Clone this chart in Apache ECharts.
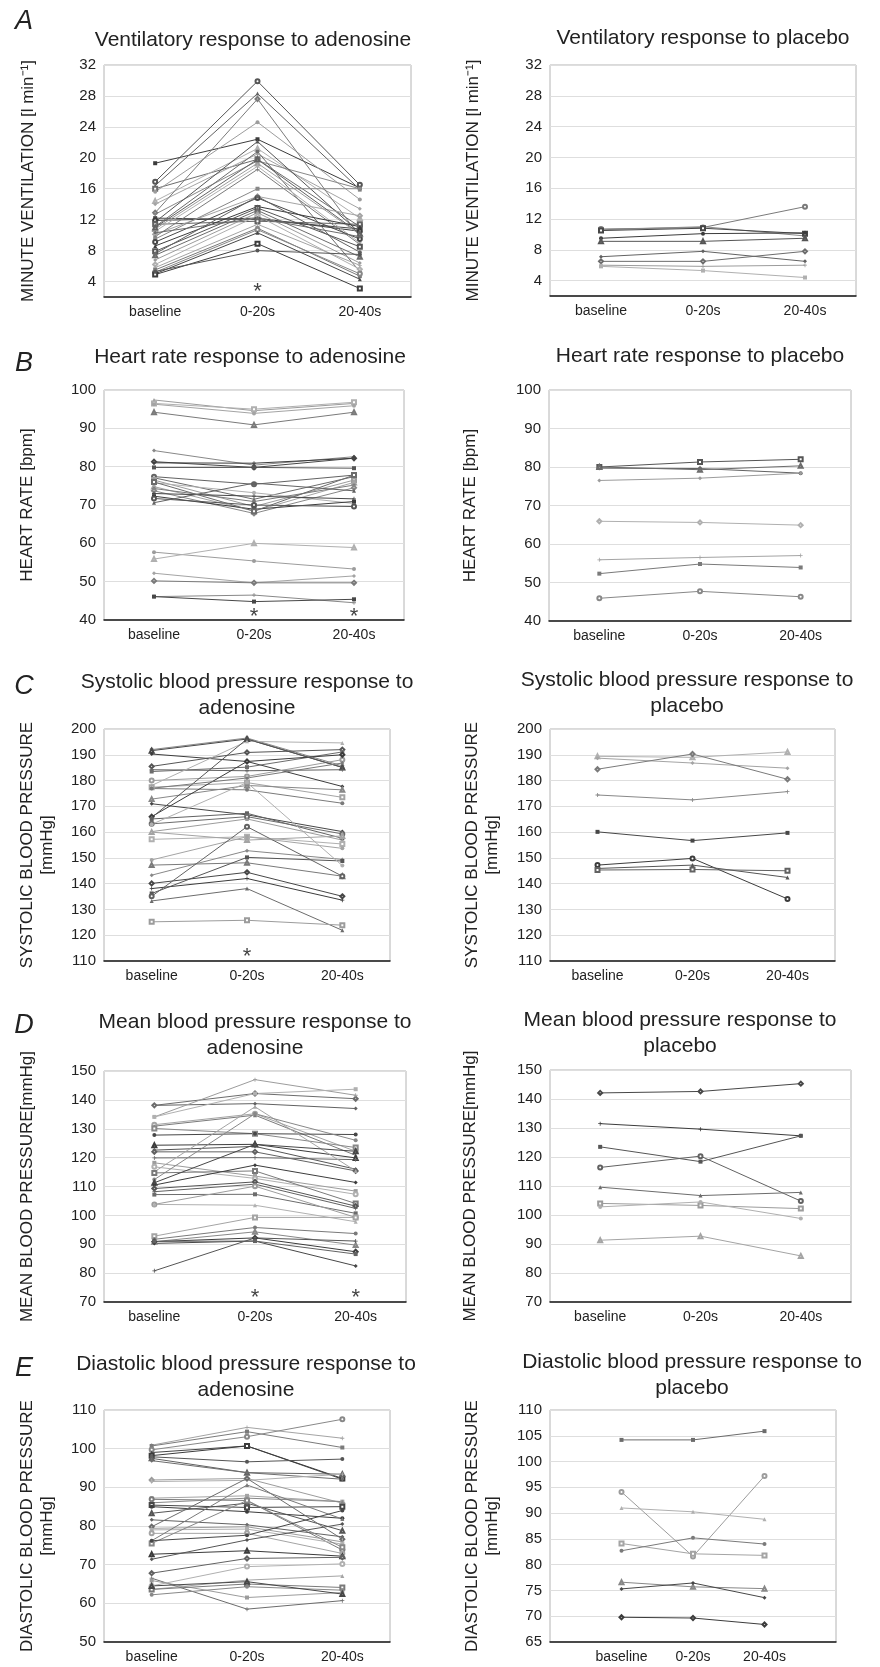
<!DOCTYPE html>
<html><head><meta charset="utf-8">
<script src="https://cdn.jsdelivr.net/npm/echarts@6/dist/echarts.min.js"></script>
<style>html,body{margin:0;padding:0;background:#fff}#c{width:880px;height:1667px}</style>
</head><body><div id="c"></div>
<script>
// ---------- categories & axis ranges ----------
const categories = ['baseline', '0-20s', '20-40s'];
const yRangeVent = [2, 32, 4];
const yRangeHr = [40, 100, 10];
const yRangeSbp = [110, 200, 10];
const yRangeMbp = [70, 150, 10];
const yRangeDbpAdenosine = [50, 110, 10];
const yRangeDbpPlacebo = [65, 110, 5];

// ---------- data: each row = one subject [baseline, 0-20s, 20-40s] ----------
const ventAdenosine = [
  [19.3,22.4,16.1],[16.9,29.9,16.5],[16.4,28.3,15.9],[16.0,19.8,11.1],[15.6,24.6,14.6],
  [14.4,21.2,12.2],[14.0,20.5,13.4],[12.9,27.6,9.8],[12.7,19.6,16.0],[12.2,12.0,10.8],
  [11.9,12.2,10.5],[11.7,22.1,10.3],[11.4,11.8,11.4],[11.1,20.8,5.3],[10.8,19.3,10.1],
  [10.5,18.9,9.0],[10.1,15.0,12.5],[9.8,18.5,8.8],[9.5,16.0,16.0],[9.1,14.8,9.5],
  [8.6,13.7,11.1],[7.9,13.5,8.5],[7.6,15.0,7.8],[7.4,13.2,7.2],[6.8,12.9,6.4],
  [6.2,12.5,5.6],[5.8,11.4,6.1],[5.5,10.9,4.7],[5.2,10.7,5.0],[5.0,10.3,4.3],
  [4.9,8.9,3.1],[5.3,8.0,7.5],[11.0,19.8,10.2],[10.3,12.2,9.8]
];
const ventPlacebo = [
  [10.7,10.9,13.6],[10.6,11.0,9.8],[10.5,10.8,10.1],[9.5,10.1,10.2],[9.1,9.1,9.5],
  [7.1,7.8,6.5],[6.5,6.5,7.8],[6.0,5.85,6.0],[5.85,5.3,4.4]
];
const hrAdenosine = [
  [97.4,94.6,96.5],[96.5,95.0,96.8],[96.3,93.9,95.9],[94.2,90.9,94.2],[84.2,80.4,82.6],
  [81.3,79.8,82.2],[81.0,80.9,82.2],[79.8,79.8,79.6],[77.4,75.4,77.8],[77.1,71.5,77.4],
  [76.5,69.6,76.5],[75.8,73.2,70.4],[74.8,68.4,75.9],[74.3,70.9,75.2],[73.7,67.8,74.5],
  [73.0,72.3,71.6],[72.3,68.9,70.9],[71.7,70.0,69.6],[70.6,75.7,73.7],[76.0,68.4,77.8],
  [57.7,55.4,53.3],[55.9,60.0,58.9],[52.2,49.7,51.5],[50.2,49.7,49.7],[46.1,46.5,44.5],
  [46.1,44.8,45.4]
];
const hrPlacebo = [
  [80.0,81.3,82.0],[79.7,79.6,78.4],[80.0,79.3,80.3],[76.5,77.1,78.4],
  [65.9,65.6,64.9],[55.9,56.5,57.0],[52.3,54.8,53.9],[45.9,47.7,46.3]
];
const sbpAdenosine = [
  [192.0,196.5,185.7],[191.6,196.1,185.1],[190.3,187.4,177.7],[185.5,190.9,192.0],[184.2,183.8,184.2],
  [183.5,185.2,191.1],[180.0,181.6,188.1],[178.1,195.2,194.6],[177.4,179.2,173.5],[176.9,176.4,171.2],
  [172.8,178.1,176.4],[171.0,166.7,160.2],[166.0,187.4,190.0],[165.6,196.1,185.1],[165.1,167.3,157.6],
  [163.2,166.0,159.3],[160.2,165.1,156.9],[157.2,158.2,155.4],[149.2,158.2,153.7],[147.2,148.1,142.9],
  [143.3,152.8,149.4],[140.1,144.4,135.1],[138.1,142.0,133.6],[136.2,150.2,148.8],[135.1,162.1,142.9],
  [133.3,138.1,121.9],[125.2,125.8,123.9],[163.0,179.2,147.0],[160.0,156.9,158.5],[177.0,181.0,186.8]
];
const sbpPlacebo = [
  [189.4,189.0,191.1],[188.7,186.8,184.8],[184.4,190.3,180.5],[174.4,172.5,175.7],
  [160.1,156.7,159.7],[147.2,149.8,134.1],[145.9,147.2,142.4],[145.3,145.5,145.0]
];
const mbpAdenosine = [
  [138.1,138.7,137.0],[138.1,142.2,140.4],[134.1,147.0,141.6],[134.1,142.2,143.7],[131.4,135.2,122.2],
  [130.9,134.7,120.8],[130.1,128.3,123.5],[127.8,128.3,128.0],[124.3,124.6,119.9],[122.6,123.9,116.0],
  [122.0,122.0,115.4],[119.9,120.0,119.3],[118.2,113.6,108.4],[116.8,112.8,107.3],[115.1,137.6,115.4],
  [114.7,115.4,104.1],[112.4,135.2,126.0],[111.3,124.6,122.2],[110.5,117.4,111.4],[109.3,111.6,103.2],
  [108.2,110.8,102.4],[107.2,107.3,100.7],[103.8,110.1,99.3],[103.8,103.5,97.8],[92.8,99.3,99.3],
  [91.7,95.8,93.7],[90.9,94.3,89.7],[90.3,91.1,82.5],[90.9,92.2,87.4],[80.8,92.2,91.1],[91.0,91.1,86.6]
];
const mbpPlacebo = [
  [142.1,142.6,145.3],[131.5,129.6,127.3],[123.5,118.4,127.3],[116.4,120.3,104.8],
  [109.6,106.7,107.8],[104.0,103.3,102.2],[102.8,104.5,98.8],[91.3,92.7,85.9]
];
const dbpAdenosine = [
  [100.9,105.5,102.7],[100.7,104.4,100.3],[99.7,103.1,107.6],[99.0,100.7,92.1],[98.2,100.7,92.3],
  [97.9,96.6,97.3],[97.5,93.8,93.4],[96.9,93.8,92.1],[91.9,92.3,85.9],[91.5,91.8,93.4],
  [87.2,87.8,86.3],[86.9,86.6,73.8],[86.0,87.2,86.3],[85.4,84.8,85.0],[85.0,83.7,82.0],
  [83.3,85.9,78.8],[81.6,80.3,77.2],[79.8,92.3,76.6],[79.4,79.8,75.9],[79.0,79.2,75.3],
  [78.1,78.1,72.9],[76.2,90.6,81.8],[75.5,86.6,74.5],[76.2,77.6,84.0],[72.7,73.6,72.2],
  [71.4,76.4,80.5],[67.8,71.6,71.9],[66.5,58.5,60.7],[65.9,61.5,62.8],[64.5,69.5,70.2],
  [63.6,66.0,67.1],[63.6,65.0,64.1],[62.2,64.3,63.4],[64.5,65.6,62.4]
];
const dbpPlacebo = [
  [104.2,104.2,105.9],[94.1,81.6,97.2],[91.0,90.25,88.8],[84.1,82.1,81.8],
  [82.7,85.2,84.0],[76.6,75.7,75.35],[75.3,76.45,73.6],[69.8,69.65,68.4]
];
// significance markers: [category index, value]
const sigVentAdenosine = [[1, 3.3]];
const sigHrAdenosine = [[1, 42.2], [2, 42.2]];
const sigSbpAdenosine = [[1, 113.5]];
const sigMbpAdenosine = [[1, 73.2], [2, 73.2]];

// ---------- styling / layout ----------
const FONT = '"Liberation Sans", Arial, Helvetica, sans-serif';
const PLUS = 'path://M0.4,0H0.6V0.4H1V0.6H0.6V1H0.4V0.6H0V0.4H0.4Z';
const symbols = ['rect','emptyCircle','triangle','emptyRect','circle','emptyTriangle','diamond','emptyDiamond',PLUS];
const colors = ['#3c3c3c','#7a7a7a','#9c9c9c','#555555','#888888','#b0b0b0','#626262','#474747','#a4a4a4','#6c6c6c'];

const panels = [
  {data: ventAdenosine, range: yRangeVent, sig: sigVentAdenosine, grid: [104,65,307,232], title: 'Ventilatory response to adenosine', tpos: [253,40], yname: 'MINUTE VENTILATION [l min⁻¹]', gap: 66, letter: 'A', lpos: [24,21]},
  {data: ventPlacebo, range: yRangeVent, sig: [], grid: [550,65,306,231], title: 'Ventilatory response to placebo', tpos: [703,38], yname: 'MINUTE VENTILATION [l min⁻¹]', gap: 67},
  {data: hrAdenosine, range: yRangeHr, sig: sigHrAdenosine, grid: [104,390,300,230], title: 'Heart rate response to adenosine', tpos: [250,357], yname: 'HEART RATE [bpm]', gap: 67, letter: 'B', lpos: [24,363]},
  {data: hrPlacebo, range: yRangeHr, sig: [], grid: [549,390,302,231], title: 'Heart rate response to placebo', tpos: [700,356], yname: 'HEART RATE [bpm]', gap: 69},
  {data: sbpAdenosine, range: yRangeSbp, sig: sigSbpAdenosine, grid: [104,729,286,232], title: 'Systolic blood pressure response to\nadenosine', tpos: [247,695], yname: 'SYSTOLIC BLOOD PRESSURE\n[mmHg]', gap: 47, letter: 'C', lpos: [24,686]},
  {data: sbpPlacebo, range: yRangeSbp, sig: [], grid: [550,729,285,232], title: 'Systolic blood pressure response to\nplacebo', tpos: [687,693], yname: 'SYSTOLIC BLOOD PRESSURE\n[mmHg]', gap: 48},
  {data: mbpAdenosine, range: yRangeMbp, sig: sigMbpAdenosine, grid: [104,1071,302,231], title: 'Mean blood pressure response to\nadenosine', tpos: [255,1035], yname: 'MEAN BLOOD PRESSURE[mmHg]', gap: 67, letter: 'D', lpos: [24,1025]},
  {data: mbpPlacebo, range: yRangeMbp, sig: [], grid: [550,1070,301,232], title: 'Mean blood pressure response to\nplacebo', tpos: [680,1033], yname: 'MEAN BLOOD PRESSURE[mmHg]', gap: 70},
  {data: dbpAdenosine, range: yRangeDbpAdenosine, sig: [], grid: [104,1410,286,232], title: 'Diastolic blood pressure response to\nadenosine', tpos: [246,1377], yname: 'DIASTOLIC BLOOD PRESSURE\n[mmHg]', gap: 47, letter: 'E', lpos: [24,1368]},
  {data: dbpPlacebo, range: yRangeDbpPlacebo, sig: [], grid: [550,1410,286,232], title: 'Diastolic blood pressure response to\nplacebo', tpos: [692,1375], yname: 'DIASTOLIC BLOOD PRESSURE\n[mmHg]', gap: 48, wide: true}
];

const grids = [], xAxes = [], yAxes = [], series = [], graphics = [];
panels.forEach((p, k) => {
  const [l, t, w, h] = p.grid;
  grids.push({left: l, top: t, width: w, height: h, show: true, borderColor: '#b4b4b4', borderWidth: 1, backgroundColor: '#fff'});
  const cats = p.wide ? [''].concat(categories, ['']) : categories;
  const shift = p.wide ? 1 : 0;
  xAxes.push({type: 'category', gridIndex: k, data: cats, boundaryGap: !p.wide,
    axisLine: {show: true, lineStyle: {color: '#1a1a1a', width: 1.5}}, axisTick: {show: false},
    axisLabel: {interval: 0, fontSize: 14, color: '#222', fontFamily: FONT, margin: 8}, splitLine: {show: false}});
  const [mn, mx, st] = p.range;
  const odd = (mn % st) !== 0;
  yAxes.push({type: 'value', gridIndex: k, min: mn, max: mx, interval: odd ? st / 2 : st,
    name: p.yname, nameLocation: 'middle', nameGap: p.gap, nameRotate: 90,
    nameTextStyle: {fontSize: 17, color: '#222', fontFamily: FONT, lineHeight: 20},
    axisLine: {show: false}, axisTick: {show: false},
    axisLabel: {fontSize: 15, color: '#222', fontFamily: FONT, margin: 8,
      formatter: v => (odd && Math.round(v) % st !== 0) ? '' : String(v)},
    splitLine: {show: true, lineStyle: {color: odd ? ['rgba(0,0,0,0)', '#dedede'] : '#dedede', width: 1}}});
  p.data.forEach((row, i) => {
    const c = colors[(i * 3 + k) % colors.length];
    series.push({type: 'line', xAxisIndex: k, yAxisIndex: k, silent: true, animation: false,
      data: row.map((v, j) => [j + shift, v]),
      symbol: symbols[(i + k) % symbols.length], symbolSize: 4,
      lineStyle: {color: c, width: 1}, itemStyle: {color: c}, z: 3});
  });
  if (p.sig.length) {
    series.push({type: 'scatter', xAxisIndex: k, yAxisIndex: k, silent: true, animation: false,
      data: p.sig.map(d => [d[0] + shift, d[1]]), symbolSize: 1, itemStyle: {color: 'rgba(0,0,0,0)'},
      label: {show: true, formatter: '*', position: 'inside', fontSize: 22, color: '#111', fontFamily: FONT, offset: [0, 5]}, z: 4});
  }
  graphics.push({type: 'text', x: p.tpos[0], y: p.tpos[1], style: {text: p.title, fill: '#222',
    font: '21px ' + FONT, lineHeight: 26, textAlign: 'center', textVerticalAlign: 'middle', align: 'center', verticalAlign: 'middle'}});
  if (p.letter) {
    graphics.push({type: 'text', x: p.lpos[0], y: p.lpos[1], style: {text: p.letter, fill: '#222',
      font: 'italic 27px ' + FONT, textAlign: 'center', textVerticalAlign: 'middle', align: 'center', verticalAlign: 'middle'}});
  }
});

const chart = echarts.init(document.getElementById('c'), null, {renderer: 'canvas', width: 880, height: 1667});
chart.setOption({backgroundColor: '#fff', animation: false, grid: grids, xAxis: xAxes, yAxis: yAxes, series: series, graphic: graphics});
</script></body></html>
